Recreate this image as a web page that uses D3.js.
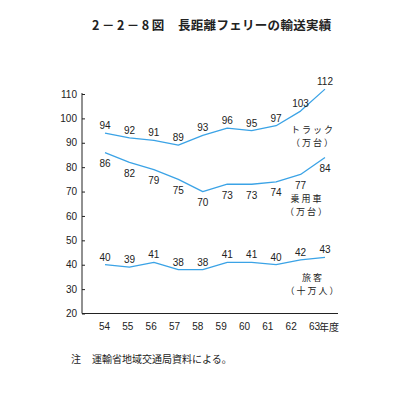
<!DOCTYPE html>
<html>
<head>
<meta charset="utf-8">
<script src="https://cdn.jsdelivr.net/npm/d3@7"></script>
<style>
  body { margin: 0; background: #fff; }
  text { font-family: "Noto Sans CJK JP", "Liberation Sans", sans-serif; fill: #222; }
  .axis path, .axis line { stroke: #222; }
  .axis text { font-size: 10px; font-family: "Liberation Sans", sans-serif; }
</style>
</head>
<body>
<svg id="chart"></svg>
<script>
// fiscal years (showa)
let years = ['54', '55', '56', '57', '58', '59', '60', '61', '62', '63'];

// series values
let truck = [94, 92, 91, 89, 93, 96, 95, 97, 103, 112];       // 万台
let car = [86, 82, 79, 75, 70, 73, 73, 74, 77, 84];           // 万台
let passenger = [40, 39, 41, 38, 38, 41, 41, 40, 42, 43];      // 十万人

let yTicks = [20, 30, 40, 50, 60, 70, 80, 90, 100, 110];

let config = {
  'svg': {},
  'plot': {}
};

config.svg.width = 405;
config.svg.height = 393;

config.plot.left = 82;
config.plot.right = 338;
config.plot.top = 94;
config.plot.bottom = 313.5;

let svg = d3.select('svg#chart');
svg.attr('width', config.svg.width);
svg.attr('height', config.svg.height);

// scales
let scale = {};

scale.x = d3.scalePoint().domain(years).range([105, 325]);
scale.tick = d3.scalePoint().domain(years).range([104, 314]);
scale.y = d3.scaleLinear().domain([20, 110]).range([config.plot.bottom, config.plot.top]);

// axes
let axis = {};
axis.y = d3.axisLeft(scale.y).tickValues(yTicks).tickSizeInner(-3).tickSizeOuter(0).tickPadding(5);
axis.x = d3.axisBottom(scale.tick).tickSize(0).tickPadding(9);

let gy = svg.append('g');
gy.attr('class', 'axis');
gy.attr('transform', translate(config.plot.left, 0));
gy.call(axis.y);
gy.select('.domain').attr('d', 'M0,' + (config.plot.top - 1) + 'V' + config.plot.bottom);

let gx = svg.append('g');
gx.attr('class', 'axis');
gx.attr('transform', translate(0, config.plot.bottom));
gx.call(axis.x);
gx.select('.domain').attr('d', 'M' + config.plot.left + ',0H' + config.plot.right);

// "年度" after the last year
svg.append('text')
  .attr('x', scale.tick('63') + 5)
  .attr('y', config.plot.bottom + 17)
  .style('font-size', '10px')
  .text('年度');

// lines
let line = d3.line()
  .x((d, i) => scale.x(years[i]))
  .y(d => scale.y(d));

let series = [
  { name: 'truck', values: truck, dy: -4 },
  { name: 'car', values: car, dy: 14.5 },
  { name: 'passenger', values: passenger, dy: -4 }
];

series.forEach(function(s) {
  svg.append('path')
    .attr('d', line(s.values))
    .attr('fill', 'none')
    .attr('stroke', '#3ba3e6')
    .attr('stroke-width', 1.3)
    .attr('stroke-linejoin', 'round');

  svg.append('g')
    .selectAll('text')
    .data(s.values)
    .enter()
    .append('text')
    .attr('x', (d, i) => scale.x(years[i]))
    .attr('y', d => scale.y(d) + s.dy)
    .attr('text-anchor', 'middle')
    .style('font-size', '10px')
    .style('font-family', '"Liberation Sans", sans-serif')
    .text(d => d);
});

// series names (two lines each)
let names = [
  { lines: ['トラック', '（万台）'], x: 313, y: 133 },
  { lines: ['乗用車', '（万台）'], x: 307, y: 201.5 },
  { lines: ['旅客', '（十万人）'], x: 313, y: 280.5 }
];

names.forEach(function(n) {
  n.lines.forEach(function(l, i) {
    svg.append('text')
      .attr('x', n.x)
      .attr('y', n.y + i * 13)
      .attr('text-anchor', 'middle')
      .style('font-size', '9px')
      .style('letter-spacing', '2px')
      .text(l);
  });
});

// title
let title = svg.append('text')
  .attr('x', 92)
  .attr('y', 30)
  .style('font-size', '12.5px')
  .style('font-weight', 'bold');
title.append('tspan').style('letter-spacing', '2.5px').text('2－2－8図');
title.append('tspan').attr('x', 178).style('letter-spacing', '0.3px').text('長距離フェリーの輸送実績');

// note
let note = svg.append('text')
  .attr('x', 71)
  .attr('y', 363)
  .style('font-size', '10px');
note.append('tspan').text('注');
note.append('tspan').attr('x', 92).text('運輸省地域交通局資料による。');

// helper method to make translating easier
function translate(x, y) {
  return 'translate(' + x + ',' + y + ')';
}
</script>
</body>
</html>
